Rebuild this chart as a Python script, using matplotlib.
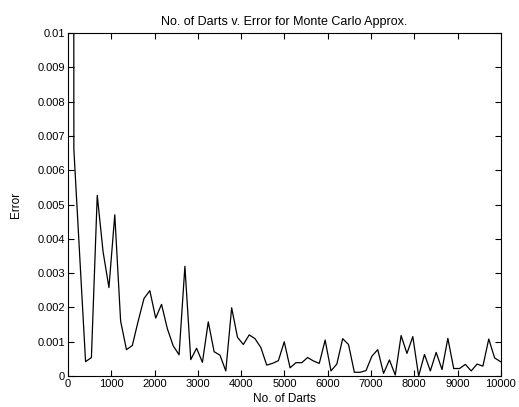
#!/usr/bin/env python3
"""
Error of a Monte Carlo estimate against the number of darts thrown.
"""

import matplotlib
matplotlib.use('Agg')
import matplotlib.pyplot as plt

plt.rcParams['font.family'] = ['Liberation Sans', 'DejaVu Sans']

# --- DATA ---
darts = [1, 136, 271, 406, 541, 676, 811, 946, 1081,
         1216, 1351, 1486, 1621, 1756, 1891, 2026, 2161, 2296,
         2431, 2566, 2701, 2836, 2971, 3106, 3241, 3376, 3511,
         3646, 3781, 3916, 4051, 4186, 4321, 4456, 4591, 4726,
         4861, 4996, 5131, 5266, 5401, 5536, 5671, 5806, 5941,
         6076, 6211, 6346, 6481, 6616, 6751, 6886, 7021, 7156,
         7291, 7426, 7561, 7696, 7831, 7966, 8101, 8236, 8371,
         8506, 8641, 8776, 8911, 9046, 9181, 9316, 9451, 9586,
         9721, 9856, 9991]

error = [0.27, 0.0066, 0.0035, 0.00042, 0.00054, 0.00527, 0.00362, 0.00258, 0.00470,
         0.00160, 0.00077, 0.00089, 0.00160, 0.00226, 0.00249, 0.00169, 0.00209, 0.00138,
         0.00088, 0.00062, 0.00320, 0.00048, 0.00081, 0.00040, 0.00158, 0.00071, 0.00061,
         0.00015, 0.00199, 0.00113, 0.00092, 0.00120, 0.00109, 0.00083, 0.00032, 0.00037,
         0.00045, 0.00100, 0.00024, 0.00039, 0.00039, 0.00054, 0.00044, 0.00037, 0.00105,
         0.00015, 0.00035, 0.00109, 0.00092, 0.00011, 0.00011, 0.00016, 0.00058, 0.00077,
         0.00008, 0.00047, 0.00003, 0.00118, 0.00066, 0.00115, 0.00000, 0.00063, 0.00015,
         0.00069, 0.00019, 0.00110, 0.00022, 0.00022, 0.00034, 0.00015, 0.00035, 0.00029,
         0.00108, 0.00053, 0.00042]

x_ticks = [0, 1000, 2000, 3000, 4000, 5000, 6000, 7000, 8000, 9000, 10000]
y_ticks = [0, 0.001, 0.002, 0.003, 0.004, 0.005, 0.006, 0.007, 0.008, 0.009, 0.01]
y_labels = ['0', '0.001', '0.002', '0.003', '0.004', '0.005', '0.006',
            '0.007', '0.008', '0.009', '0.01']

fig = plt.figure(figsize=(5.19, 4.07), dpi=100)
ax = fig.add_axes([0.131, 0.076, 0.834, 0.843])

ax.plot(darts, error, color='black', linewidth=0.9)

ax.set_xlim(0, 10000)
ax.set_ylim(0, 0.01)
ax.set_xticks(x_ticks)
ax.set_xticklabels([str(t) for t in x_ticks])
ax.set_yticks(y_ticks)
ax.set_yticklabels(y_labels)
ax.tick_params(direction='in', top=True, right=True, length=4,
               width=0.8, labelsize=8, pad=2)
for side in ax.spines.values():
    side.set_linewidth(0.8)

ax.set_title("No. of Darts v. Error for Monte Carlo Approx.", fontsize=9, pad=6)
ax.set_xlabel("No. of Darts", fontsize=8.5, labelpad=3)
ax.set_ylabel("Error", fontsize=8.5, labelpad=11)

fig.savefig('out.png', dpi=100)
plt.close(fig)
